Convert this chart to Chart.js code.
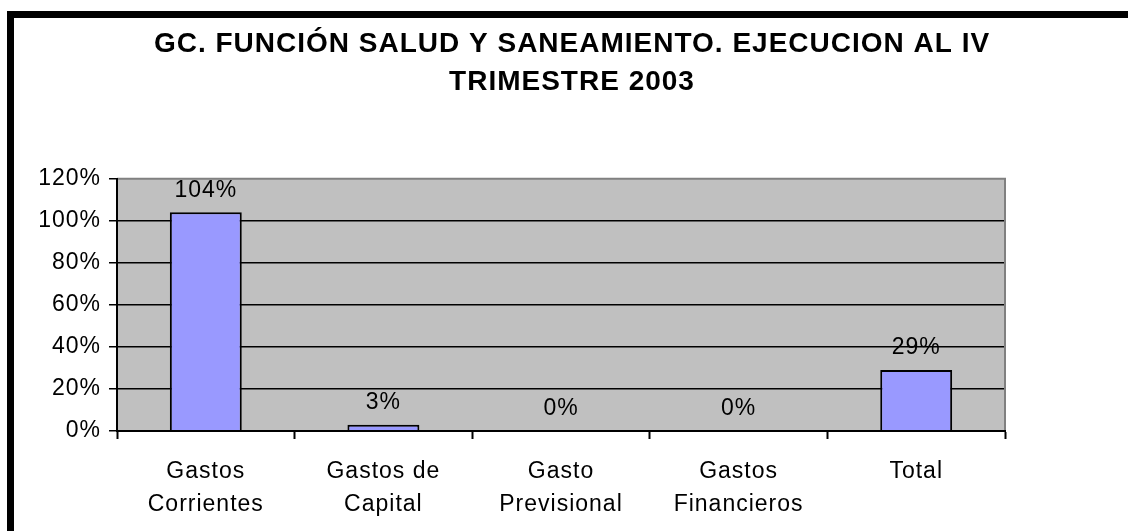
<!DOCTYPE html>
<html><head><meta charset="utf-8">
<script src="https://cdn.jsdelivr.net/npm/chart.js@4.4.0/dist/chart.umd.min.js"></script>
<style>html,body{margin:0;padding:0;background:#fff;overflow:hidden}#wrap{width:1128px;height:531px}</style>
</head><body><div id="wrap"><canvas id="c" width="1128" height="531"></canvas></div>
<script>
const categories = [['Gastos','Corrientes'],['Gastos de','Capital'],['Gasto','Previsional'],['Gastos','Financieros'],'Total'];
const values = [104, 3, 0, 0, 29];
const yTicks = [0, 20, 40, 60, 80, 100, 120];
const titleLines = ['GC. FUNCIÓN SALUD Y SANEAMIENTO. EJECUCION AL IV', 'TRIMESTRE 2003'];

const FONT = '"Liberation Sans", Arial, sans-serif';
const SPACING = '1px';

const decor = {
  id: 'decor',
  beforeLayout(chart) { chart.ctx.letterSpacing = SPACING; },
  beforeDraw(chart) {
    const ctx = chart.ctx; ctx.letterSpacing = SPACING;
    const a = chart.chartArea;
    ctx.save();
    ctx.fillStyle = '#000';
    ctx.fillRect(7, 11, 7, 520);
    ctx.fillRect(7, 11, 1121, 7);
    ctx.fillStyle = '#C0C0C0';
    ctx.fillRect(a.left, a.top, a.right - a.left, a.bottom - a.top);
    ctx.restore();
  },
  beforeDatasetsDraw(chart) {
    const ctx = chart.ctx, a = chart.chartArea;
    ctx.save();
    ctx.strokeStyle = '#808080'; ctx.lineWidth = 2;
    ctx.beginPath();
    ctx.moveTo(a.left, a.top); ctx.lineTo(a.right, a.top); ctx.lineTo(a.right, a.bottom);
    ctx.stroke();
    ctx.restore();
  },
  afterDatasetsDraw(chart) {
    const ctx = chart.ctx;
    const meta = chart.getDatasetMeta(0);
    ctx.save();
    ctx.font = '23px ' + FONT;
    ctx.fillStyle = '#000';
    ctx.textAlign = 'center';
    ctx.textBaseline = 'middle';
    meta.data.forEach((el, i) => {
      ctx.fillText(values[i] + '%', el.x, el.y - 22);
    });
    ctx.restore();
  }
};

new Chart(document.getElementById('c'), {
  type: 'bar',
  data: {
    labels: categories,
    datasets: [{
      data: values,
      backgroundColor: '#9999FF',
      borderColor: '#000',
      borderWidth: 2,
      barPercentage: 0.405,
      categoryPercentage: 1
    }]
  },
  options: {
    responsive: false,
    animation: false,
    devicePixelRatio: 1,
    layout: { padding: { top: 0, left: 16, right: 0, bottom: 0 } },
    plugins: {
      legend: { display: false },
      tooltip: { enabled: false },
      title: {
        display: true,
        text: titleLines,
        color: '#000',
        font: { family: FONT, size: 28, weight: 'bold', lineHeight: 1.36 },
        padding: { top: 25, bottom: 77.5 }
      }
    },
    scales: {
      x: {
        grid: { drawOnChartArea: false, color: '#000', tickColor: '#000', tickLength: 8, tickWidth: 2, offset: true },
        border: { color: '#000', width: 2, z: 1 },
        ticks: { color: '#000', font: { family: FONT, size: 23, lineHeight: 1.4 }, padding: 17, maxRotation: 0, autoSkip: false },
        afterFit(s) { s.height = 100; }
      },
      y: {
        min: yTicks[0], max: yTicks[yTicks.length - 1],
        afterBuildTicks(s) { s.ticks = yTicks.map(v => ({ value: v })); },
        grid: {
          color: c => (c.tick && c.tick.value === 120) ? 'rgba(0,0,0,0)' : '#000',
          lineWidth: 1.5, tickColor: '#000', tickLength: 8, tickWidth: 1.5
        },
        border: { color: '#000', width: 2, z: 1 },
        ticks: { color: '#000', font: { family: FONT, size: 23 }, padding: 8, callback: v => v + '%' },
        afterFit(s) { s.width = 101; }
      },
      y2: {
        type: 'linear', position: 'right', display: true,
        grid: { display: false }, border: { display: false }, ticks: { display: false },
        afterFit(s) { s.width = 123; }
      }
    }
  },
  plugins: [decor]
});
</script>
</body></html>
